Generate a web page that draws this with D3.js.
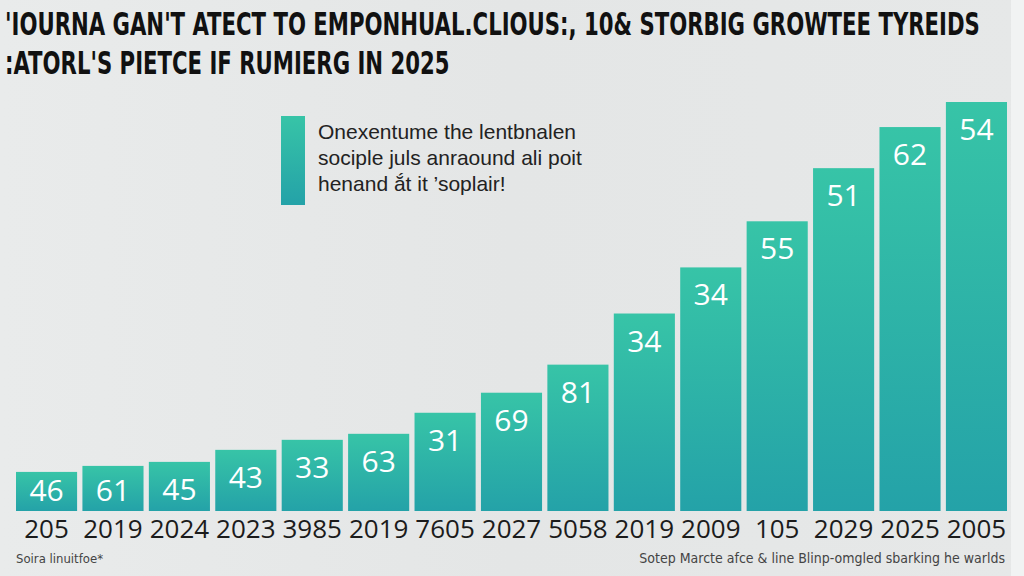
<!DOCTYPE html>
<html>
<head>
<meta charset="utf-8">
<script src="https://cdn.jsdelivr.net/npm/d3@7"></script>
<style>
  html, body { margin: 0; padding: 0; background: #e5e7e7; }
  svg { display: block; }
</style>
</head>
<body>
<svg id="chart"></svg>
<script>
// data
const years = ['205', '2019', '2024', '2023', '3985', '2019', '7605', '2027', '5058', '2019', '2009', '105', '2029', '2025', '2005'];
const heights = [39, 45, 49, 61, 71, 77, 98, 118, 146, 197, 243, 289, 342, 383, 408];
const valueLabels = ['46', '61', '45', '43', '33', '63', '31', '69', '81', '34', '34', '55', '51', '62', '54'];
const titleLines = [
  "'IOURNA GAN'T ATECT TO EMPONHUAL.CLIOUS:, 10& STORBIG GROWTEE TYREIDS",
  ":ATORL'S PIETCE IF RUMIERG IN 2025"
];
const noteLines = ['Onexentume the lentbnalen', 'sociple juls anraound ali poit', 'henand ắt it \u2019soplair!'];
const sourceText = 'Soira linuitfoe*';
const creditText = 'Sotep Marcte afce & line Blinp-omgled sbarking he warlds';

const width = 1024, height = 576;
const margin = { top: 102, right: 17, bottom: 65, left: 16 };

const svg = d3.select('#chart')
  .attr('width', width)
  .attr('height', height);

const defs = svg.append('defs');
const grad = defs.append('linearGradient')
  .attr('id', 'barGrad')
  .attr('x1', 0).attr('y1', 0).attr('x2', 0).attr('y2', 1);
grad.append('stop').attr('offset', '0%').attr('stop-color', '#37c4a7');
grad.append('stop').attr('offset', '100%').attr('stop-color', '#24a2a8');

const bgGrad = defs.append('linearGradient')
  .attr('id', 'bgGrad')
  .attr('x1', 0).attr('y1', 0).attr('x2', 1).attr('y2', 0);
bgGrad.append('stop').attr('offset', '0%').attr('stop-color', '#e9ebeb');
bgGrad.append('stop').attr('offset', '50%').attr('stop-color', '#e4e6e6');
bgGrad.append('stop').attr('offset', '100%').attr('stop-color', '#e6e8e8');

//background
svg.append('rect')
  .attr('width', width).attr('height', height)
  .attr('fill', 'url(#bgGrad)');
svg.append('rect')
  .attr('x', 1011).attr('width', 13).attr('height', height)
  .attr('fill', '#f1f3f3');

//title - one size for both lines, fitted to the first line's width, stretched tall
const titleG = svg.selectAll('.title')
  .data(titleLines)
  .enter()
  .append('g')
  .attr('class', 'title')
  .attr('transform', (d, i) => `translate(5,${35 + i * 39}) scale(1,1.35)`);
const titleText = titleG.append('text')
  .style('font-family', '"DejaVu Sans Condensed", sans-serif')
  .style('font-weight', 'bold')
  .style('font-size', '30px')
  .style('fill', '#111')
  .text(d => d);
const firstLen = titleText.node().getComputedTextLength();
titleText.style('font-size', (30 * 975 / firstLen) + 'px');

//scales
const x = d3.scaleBand()
  .domain(d3.range(years.length))
  .range([margin.left, width - margin.right])
  .paddingInner(0.08)
  .paddingOuter(0);
const y = d3.scaleLinear()
  .domain([0, d3.max(heights)])
  .range([height - margin.bottom, margin.top]);

const baseY = y(0);

//bars
svg.selectAll('.bar')
  .data(heights)
  .enter()
  .append('rect')
  .attr('class', 'bar')
  .attr('x', (d, i) => x(i))
  .attr('y', d => y(d))
  .attr('width', x.bandwidth())
  .attr('height', d => baseY - y(d))
  .attr('fill', 'url(#barGrad)');

//value labels
svg.selectAll('.val')
  .data(heights)
  .enter()
  .append('text')
  .attr('class', 'val')
  .attr('x', (d, i) => x(i) + x.bandwidth() / 2)
  .attr('y', d => Math.min(y(d) + 38, baseY - 10))
  .attr('text-anchor', 'middle')
  .style('font-family', '"Open Sans", "Noto Sans", sans-serif')
  .style('font-size', '30px')
  .style('fill', '#fff')
  .text((d, i) => valueLabels[i]);

//x axis labels
const xAxis = d3.axisBottom(x).tickSize(0).tickFormat(i => years[i]);
const gx = svg.append('g')
  .attr('transform', `translate(0,${baseY})`)
  .call(xAxis);
gx.select('.domain').remove();
gx.selectAll('text')
  .attr('y', 27)
  .attr('dy', 0)
  .style('font-family', '"Open Sans", "Noto Sans", sans-serif')
  .style('font-size', '26px')
  .style('fill', '#1b1b1b');

//annotation
svg.append('rect')
  .attr('x', 281).attr('y', 116)
  .attr('width', 24).attr('height', 89)
  .attr('fill', 'url(#barGrad)');
svg.selectAll('.note')
  .data(noteLines)
  .enter()
  .append('text')
  .attr('class', 'note')
  .attr('x', 318)
  .attr('y', (d, i) => 139 + i * 26)
  .style('font-family', '"Liberation Sans", Arial, sans-serif')
  .style('font-size', '21px')
  .style('fill', '#222')
  .text(d => d);

//footer
svg.append('text')
  .attr('x', 16).attr('y', 563)
  .style('font-family', '"DejaVu Sans Condensed", sans-serif')
  .style('font-size', '13px')
  .style('fill', '#444')
  .text(sourceText);
svg.append('text')
  .attr('x', 1005).attr('y', 563)
  .attr('text-anchor', 'end')
  .style('font-family', '"DejaVu Sans Condensed", sans-serif')
  .style('font-size', '14px')
  .style('fill', '#444')
  .text(creditText);
</script>
</body>
</html>
